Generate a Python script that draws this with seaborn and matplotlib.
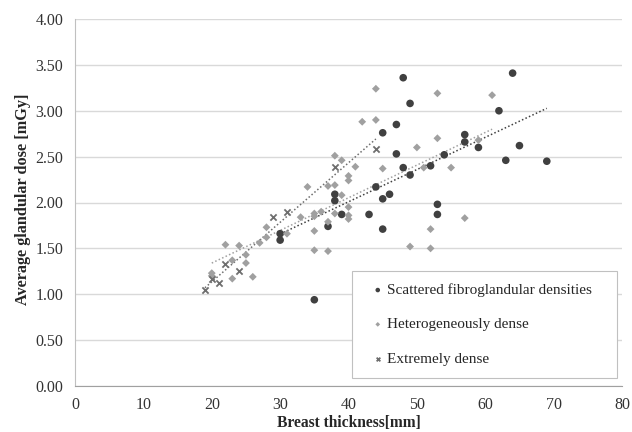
import numpy as np
import pandas as pd
import seaborn as sns
from matplotlib import pyplot as plt
from matplotlib.ticker import FormatStrFormatter, MultipleLocator

# Scattered fibroglandular densities
scattered_x = [30, 30, 35, 37, 38, 38, 39, 43, 44, 45, 45, 45, 46, 47, 47, 48, 48, 49, 49,
               52, 53, 53, 54, 57, 57, 59, 62, 63, 64, 65, 69]
scattered_y = [1.66, 1.59, 0.94, 1.74, 2.09, 2.02, 1.87, 1.87, 2.17, 2.04, 1.71, 2.76, 2.09,
               2.85, 2.53, 3.36, 2.38, 3.08, 2.30, 2.40, 1.98, 1.87, 2.52, 2.74, 2.66, 2.60,
               3.00, 2.46, 3.41, 2.62, 2.45]

# Heterogeneously dense
hetero_x = [20, 20, 22, 23, 23, 24, 25, 25, 26, 27, 28, 28, 31, 33, 34, 35, 35, 35, 35, 36,
            37, 37, 37, 38, 38, 38, 39, 39, 40, 40, 40, 40, 40, 41, 42, 44, 44, 45, 49, 50,
            51, 52, 52, 53, 53, 55, 57, 59, 61]
hetero_y = [1.23, 1.20, 1.54, 1.37, 1.17, 1.53, 1.43, 1.34, 1.19, 1.56, 1.62, 1.73, 1.66,
            1.84, 2.17, 1.88, 1.85, 1.69, 1.48, 1.90, 2.18, 1.79, 1.47, 2.51, 2.19, 1.88,
            2.46, 2.08, 2.29, 2.24, 1.95, 1.86, 1.82, 2.39, 2.88, 3.24, 2.90, 2.37, 1.52,
            2.60, 2.38, 1.71, 1.50, 3.19, 2.70, 2.38, 1.83, 2.68, 3.17]

# Extremely dense
extreme_x = [19, 20, 21, 22, 24, 29, 31, 38, 44]
extreme_y = [1.05, 1.17, 1.12, 1.33, 1.25, 1.84, 1.90, 2.39, 2.58]

groups = ["Scattered fibroglandular densities", "Heterogeneously dense", "Extremely dense"]

if __name__ == "__main__":
    df = pd.concat([
        pd.DataFrame({"x": scattered_x, "y": scattered_y, "group": groups[0]}),
        pd.DataFrame({"x": hetero_x, "y": hetero_y, "group": groups[1]}),
        pd.DataFrame({"x": extreme_x, "y": extreme_y, "group": groups[2]}),
    ])

    sns.set_style("white")
    plt.rcParams["font.family"] = ["Liberation Serif", "DejaVu Serif"]

    colors = {groups[0]: "#404040", groups[1]: "#a0a0a0", groups[2]: "#6e6e6e"}
    markers = {groups[0]: "o", groups[1]: "D", groups[2]: "x"}
    sizes = {groups[0]: 30, groups[1]: 16, groups[2]: 20}

    fig = plt.figure(figsize=(6.32, 4.32), dpi=100)
    ax = fig.add_axes([0.1187, 0.1065, 0.8655, 0.8495])

    # Trend lines
    for g in groups:
        sub = df[df["group"] == g]
        sns.regplot(ax=ax, data=sub, x="x", y="y", scatter=False, ci=None, truncate=True,
                    line_kws={"color": colors[g], "linestyle": (0, (1, 1.5)), "linewidth": 1.1})

    # Points
    for g in groups:
        sub = df[df["group"] == g]
        if g == groups[2]:
            sns.scatterplot(ax=ax, data=sub, x="x", y="y", color=colors[g], marker=markers[g],
                            s=sizes[g], linewidth=1.3, label=g, zorder=3)
        else:
            sns.scatterplot(ax=ax, data=sub, x="x", y="y", color=colors[g], marker=markers[g],
                            s=sizes[g], edgecolor="none", linewidth=0, label=g, zorder=3)

    ax.set_xlim(0, 80)
    ax.set_ylim(0, 4)
    ax.xaxis.set_major_locator(MultipleLocator(10))
    ax.yaxis.set_major_locator(MultipleLocator(0.5))
    ax.yaxis.set_major_formatter(FormatStrFormatter("%.2f"))
    ax.grid(axis="y", color="#d9d9d9", linewidth=1)
    ax.set_axisbelow(True)
    for side in ["top", "right"]:
        ax.spines[side].set_visible(False)
    ax.spines["left"].set_color("#c0c0c0")
    ax.spines["bottom"].set_color("#a0a0a0")
    ax.tick_params(length=0, labelsize=11.5, colors="#333333")
    ax.tick_params(axis="x", pad=8)
    ax.tick_params(axis="y", pad=8.5)

    ax.set_xlabel("Breast thickness[mm]", fontsize=11.2, fontweight="bold", va="center")
    ax.set_ylabel("Average glandular dose [mGy]", fontsize=11.7, fontweight="bold", va="center")
    ax.xaxis.set_label_coords(0.5, -0.1)
    ax.yaxis.set_label_coords(-0.095, 0.51)

    leg = ax.legend(loc="lower left", bbox_to_anchor=(0.506, 0.022, 0.485, 0.291), mode="expand",
                    borderaxespad=0, fontsize=11, frameon=True, fancybox=False, framealpha=1,
                    markerscale=0.6, labelspacing=1.35, handletextpad=-0.3, handlelength=1.8,
                    borderpad=0.8)
    leg.get_frame().set_edgecolor("#c0c0c0")
    leg.get_frame().set_linewidth(0.8)

    fig.savefig("out.png", dpi=100)
